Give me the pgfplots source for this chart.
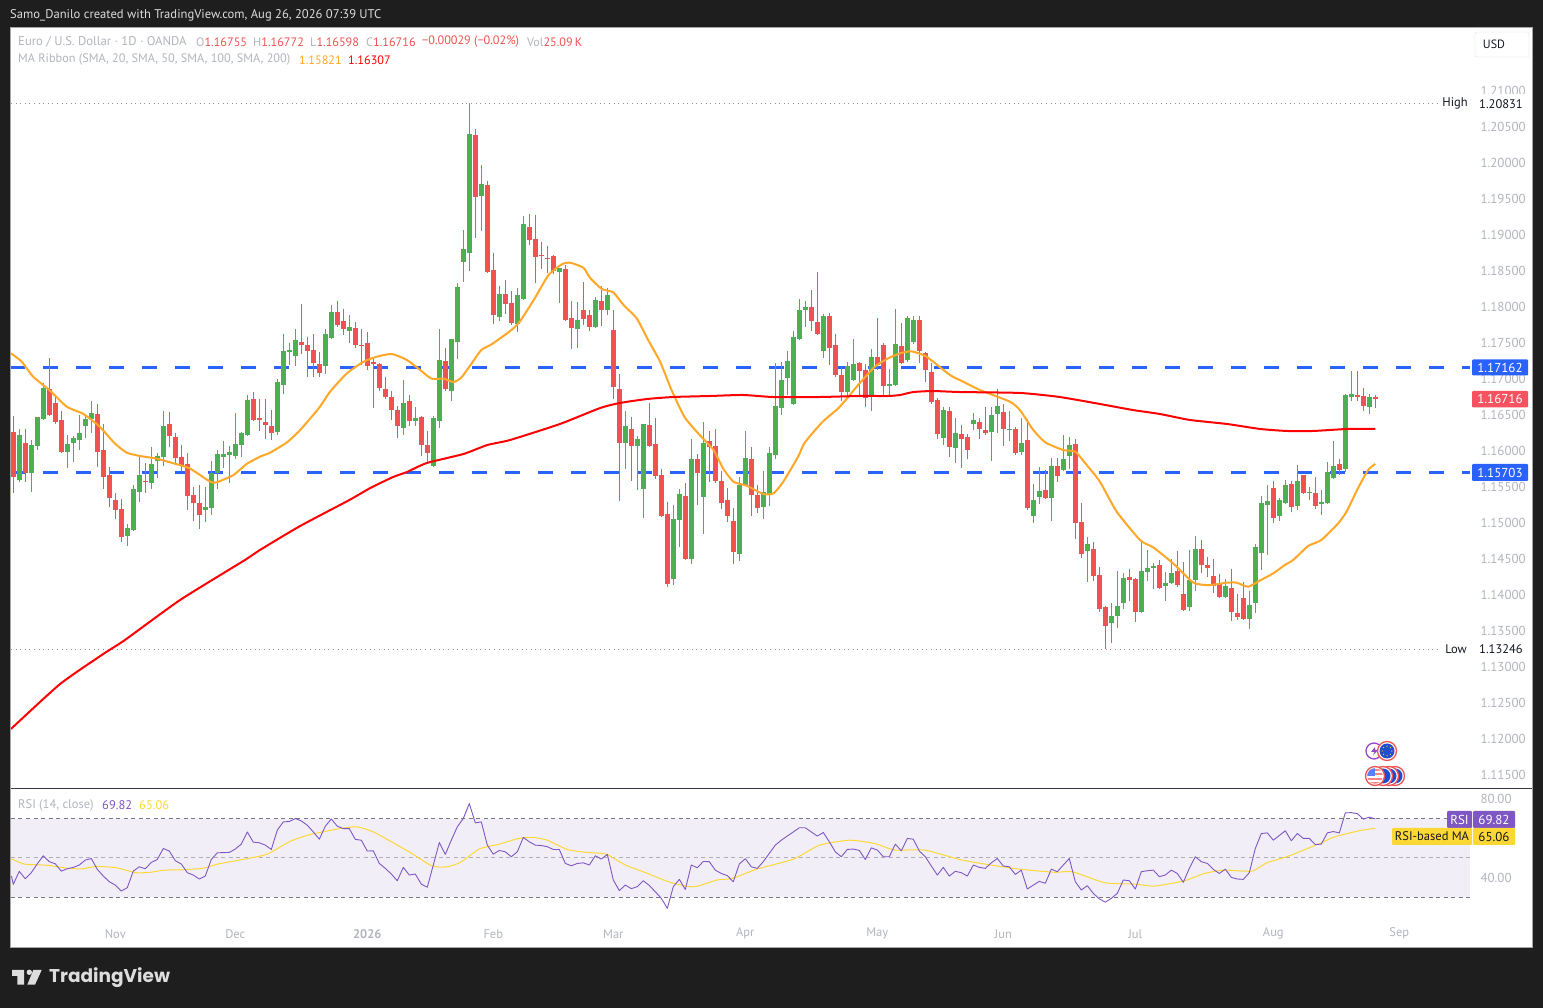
\documentclass[border=0pt]{standalone}
\usepackage{fontspec}
\setmainfont{PT Sans}
\newfontfamily\logofont{Poppins}
\usepackage{pgfplots}
\pgfplotsset{compat=1.18}
\usepackage{pgfplotstable}
\definecolor{bgdark}{HTML}{1E1E1E}
\definecolor{upc}{HTML}{4CAF50}
\definecolor{downc}{HTML}{EF5350}
\definecolor{hl}{HTML}{2962FF}
\definecolor{tickc}{HTML}{B2B5BE}
\definecolor{sma}{HTML}{FFA726}
\definecolor{smar}{HTML}{FF0000}
\definecolor{rsic}{HTML}{7E57C2}
\definecolor{rsima}{HTML}{FDD835}
\definecolor{band}{HTML}{F1EEF8}
\definecolor{dotc}{HTML}{787B86}
\definecolor{lastred}{HTML}{F7525F}
\definecolor{ink}{HTML}{131722}
\definecolor{hdr}{HTML}{DDDDDD}
\pgfplotstableread{
i o h l c
0 1.16264 1.16486 1.15421 1.15644
1 1.15597 1.16306 1.15570 1.16222
2 1.16111 1.16306 1.15570 1.15695
3 1.15695 1.16153 1.15431 1.16084
4 1.16070 1.16472 1.16014 1.16472
5 1.16445 1.16945 1.16431 1.16875
6 1.16861 1.17292 1.16486 1.16500
7 1.16667 1.16755 1.16375 1.16403
8 1.16431 1.16556 1.15972 1.15986
9 1.15986 1.16222 1.15764 1.16097
10 1.16111 1.16209 1.15847 1.16181
11 1.16153 1.16500 1.16014 1.16250
12 1.16347 1.16514 1.16181 1.16445
13 1.16445 1.16695 1.16250 1.16528
14 1.16514 1.16653 1.15778 1.15986
15 1.16014 1.16375 1.15472 1.15639
16 1.15667 1.15778 1.15222 1.15347
17 1.15320 1.15417 1.15056 1.15181
18 1.15195 1.15334 1.14736 1.14806
19 1.14820 1.14986 1.14681 1.14931
20 1.14903 1.15528 1.14889 1.15472
21 1.15431 1.15917 1.15292 1.15667
22 1.15584 1.15834 1.15417 1.15570
23 1.15556 1.16056 1.15472 1.15820
24 1.15861 1.15972 1.15625 1.15931
25 1.15917 1.16556 1.15792 1.16347
26 1.16375 1.16542 1.16056 1.16209
27 1.16195 1.16250 1.15820 1.15903
28 1.15917 1.16084 1.15709 1.15792
29 1.15820 1.15972 1.15181 1.15375
30 1.15389 1.15500 1.15028 1.15278
31 1.15278 1.15528 1.14917 1.15111
32 1.15181 1.15500 1.15014 1.15222
33 1.15209 1.15861 1.15111 1.15690
34 1.15695 1.16014 1.15472 1.15959
35 1.15917 1.16139 1.15764 1.15959
36 1.15945 1.16070 1.15556 1.15986
37 1.15931 1.16528 1.15889 1.16097
38 1.16084 1.16264 1.15917 1.16250
39 1.16222 1.16778 1.16209 1.16709
40 1.16722 1.16820 1.16417 1.16431
41 1.16458 1.16722 1.16278 1.16430
42 1.16403 1.16722 1.16167 1.16361
43 1.16347 1.16569 1.16153 1.16250
44 1.16264 1.17000 1.16222 1.16958
45 1.16917 1.17625 1.16792 1.17389
46 1.17375 1.17500 1.17194 1.17403
47 1.17319 1.17694 1.17180 1.17542
48 1.17514 1.18042 1.17347 1.17472
49 1.17472 1.17583 1.17028 1.17389
50 1.17403 1.17625 1.17028 1.17222
51 1.17208 1.17375 1.17028 1.17083
52 1.17180 1.17694 1.17069 1.17625
53 1.17569 1.18028 1.17555 1.17931
54 1.17931 1.18083 1.17722 1.17750
55 1.17806 1.17972 1.17611 1.17694
56 1.17667 1.17889 1.17500 1.17722
57 1.17708 1.17792 1.17431 1.17472
58 1.17472 1.17694 1.17194 1.17458
59 1.17500 1.17653 1.17125 1.17180
60 1.17236 1.17292 1.16597 1.17208
61 1.17208 1.17222 1.16833 1.16875
62 1.16861 1.17028 1.16722 1.16750
63 1.16750 1.16833 1.16430 1.16569
64 1.16569 1.16625 1.16181 1.16347
65 1.16319 1.16986 1.16222 1.16667
66 1.16694 1.16778 1.16347 1.16417
67 1.16417 1.16611 1.16347 1.16458
68 1.16472 1.16486 1.15931 1.16083
69 1.16083 1.16278 1.15847 1.15972
70 1.15792 1.16486 1.15778 1.16458
71 1.16417 1.17694 1.16319 1.17264
72 1.17250 1.17431 1.16833 1.16861
73 1.16833 1.17560 1.16694 1.17556
74 1.17514 1.18333 1.17278 1.18278
75 1.18625 1.19069 1.18347 1.18805
76 1.18750 1.20833 1.18500 1.20402
77 1.20388 1.20472 1.18958 1.19527
78 1.19541 1.19972 1.19055 1.19708
79 1.19694 1.19750 1.18472 1.18486
80 1.18513 1.18750 1.17763 1.17888
81 1.17861 1.18291 1.17805 1.18180
82 1.18180 1.18375 1.17902 1.18041
83 1.18055 1.18222 1.17750 1.17777
84 1.17763 1.18263 1.17652 1.18166
85 1.18111 1.19263 1.18097 1.19152
86 1.19111 1.19291 1.18861 1.18930
87 1.18944 1.19277 1.18333 1.18694
88 1.18722 1.18902 1.18527 1.18708
89 1.18680 1.18847 1.18472 1.18666
90 1.18708 1.18722 1.18458 1.18500
91 1.18486 1.18541 1.18055 1.18541
92 1.18527 1.18583 1.17805 1.17819
93 1.17847 1.18083 1.17416 1.17708
94 1.17694 1.18069 1.17430 1.17819
95 1.17958 1.18347 1.17750 1.17833
96 1.17888 1.17958 1.17666 1.17722
97 1.17722 1.18138 1.17708 1.18097
98 1.18083 1.18291 1.17736 1.17958
99 1.17958 1.18263 1.17888 1.18166
100 1.17681 1.17958 1.16722 1.16893
101 1.16861 1.17070 1.15306 1.16111
102 1.16111 1.16556 1.15750 1.16347
103 1.16306 1.16472 1.15584 1.16070
104 1.16070 1.16209 1.15459 1.16167
105 1.15472 1.16375 1.15070 1.16375
106 1.16361 1.16667 1.16056 1.16070
107 1.16097 1.16459 1.15611 1.15653
108 1.15667 1.15750 1.15084 1.15098
109 1.15125 1.15292 1.14111 1.14153
110 1.14222 1.15250 1.14139 1.15056
111 1.15042 1.15472 1.14667 1.15403
112 1.15375 1.15556 1.14486 1.14500
113 1.14500 1.16167 1.14431 1.15889
114 1.15889 1.15959 1.15250 1.15695
115 1.15361 1.16403 1.14848 1.16111
116 1.16139 1.16278 1.15570 1.16056
117 1.16070 1.16306 1.15556 1.15584
118 1.15584 1.15722 1.15195 1.15278
119 1.15320 1.15486 1.15014 1.15098
120 1.15028 1.15209 1.14431 1.14598
121 1.14570 1.15639 1.14472 1.15528
122 1.15528 1.16278 1.15514 1.15903
123 1.15889 1.16056 1.15098 1.15389
124 1.15389 1.15528 1.15139 1.15209
125 1.15222 1.15722 1.15056 1.15431
126 1.15403 1.16056 1.15236 1.15972
127 1.15945 1.17222 1.15889 1.16625
128 1.16598 1.17236 1.16500 1.16986
129 1.17014 1.17389 1.16778 1.17250
130 1.16653 1.17667 1.16639 1.17583
131 1.17556 1.18111 1.17542 1.17959
132 1.17959 1.18084 1.17722 1.18000
133 1.18000 1.18236 1.17667 1.17806
134 1.17792 1.18486 1.17611 1.17625
135 1.17389 1.17903 1.17292 1.17875
136 1.17875 1.17917 1.17195 1.17431
137 1.17472 1.17625 1.17028 1.17056
138 1.17056 1.17167 1.16695 1.16820
139 1.16820 1.17236 1.16722 1.17181
140 1.16986 1.17556 1.16972 1.17209
141 1.17222 1.17236 1.16778 1.17111
142 1.17125 1.17209 1.16611 1.16736
143 1.16778 1.17417 1.16556 1.17306
144 1.17306 1.17847 1.17125 1.17195
145 1.17472 1.17500 1.16778 1.16903
146 1.16903 1.17139 1.16764 1.16931
147 1.16917 1.17972 1.16903 1.17486
148 1.17459 1.17778 1.17208 1.17222
149 1.17264 1.17875 1.17236 1.17847
150 1.17514 1.17875 1.17486 1.17820
151 1.17820 1.17875 1.17222 1.17389
152 1.17361 1.17375 1.16959 1.17125
153 1.17097 1.17222 1.16653 1.16681
154 1.16709 1.16736 1.16167 1.16236
155 1.16181 1.16611 1.16083 1.16570
156 1.16556 1.16611 1.15917 1.16056
157 1.16042 1.16459 1.15833 1.16250
158 1.16236 1.16361 1.15764 1.16167
159 1.16195 1.16236 1.15889 1.16014
160 1.16375 1.16528 1.16292 1.16431
161 1.16403 1.16459 1.16167 1.16306
162 1.16292 1.16611 1.16222 1.16250
163 1.16264 1.16611 1.15861 1.16500
164 1.16514 1.16861 1.16250 1.16625
165 1.16542 1.16653 1.16070 1.16306
166 1.16292 1.16556 1.16139 1.16306
167 1.16306 1.16333 1.15945 1.15972
168 1.15986 1.16458 1.15944 1.16111
169 1.16152 1.16444 1.15180 1.15208
170 1.15097 1.15541 1.14999 1.15319
171 1.15361 1.15777 1.15263 1.15444
172 1.15458 1.15736 1.15333 1.15347
173 1.15347 1.15902 1.15027 1.15791
174 1.15791 1.15902 1.15569 1.15652
175 1.15736 1.16222 1.15722 1.15888
176 1.15930 1.16194 1.15750 1.16083
177 1.16097 1.16166 1.14777 1.14999
178 1.15013 1.15277 1.14513 1.14569
179 1.14611 1.14805 1.14180 1.14708
180 1.14638 1.14736 1.14194 1.14263
181 1.14277 1.14388 1.13763 1.13805
182 1.13833 1.13847 1.13246 1.13569
183 1.13611 1.13888 1.13333 1.13708
184 1.13708 1.14333 1.13541 1.13847
185 1.13888 1.14305 1.13805 1.14236
186 1.14249 1.14361 1.13916 1.14208
187 1.14222 1.14236 1.13625 1.13763
188 1.13763 1.14736 1.13749 1.14333
189 1.14319 1.14625 1.14194 1.14375
190 1.14375 1.14444 1.14083 1.14402
191 1.14416 1.14486 1.14083 1.14097
192 1.14125 1.14319 1.13916 1.14166
193 1.14166 1.14499 1.14152 1.14305
194 1.14333 1.14611 1.14111 1.14138
195 1.14013 1.14458 1.13777 1.13791
196 1.13833 1.14625 1.13777 1.14208
197 1.14208 1.14819 1.14055 1.14638
198 1.14638 1.14763 1.14305 1.14416
199 1.14416 1.14527 1.14249 1.14375
200 1.14263 1.14499 1.14027 1.14125
201 1.14152 1.14291 1.13958 1.13972
202 1.13972 1.14222 1.13958 1.14125
203 1.14097 1.14361 1.13638 1.13763
204 1.13749 1.14013 1.13652 1.13694
205 1.13958 1.14180 1.13652 1.13666
206 1.13666 1.14055 1.13527 1.13861
207 1.13888 1.14708 1.13749 1.14666
208 1.14583 1.15375 1.14347 1.15278
209 1.15250 1.15528 1.14556 1.15306
210 1.15486 1.15583 1.15000 1.15070
211 1.15097 1.15347 1.15028 1.15320
212 1.15278 1.15597 1.15264 1.15528
213 1.15542 1.15583 1.15153 1.15222
214 1.15236 1.15806 1.15181 1.15583
215 1.15667 1.15667 1.15403 1.15417
216 1.15417 1.15500 1.15320 1.15431
217 1.15417 1.15639 1.15194 1.15236
218 1.15264 1.15458 1.15111 1.15292
219 1.15278 1.15847 1.15264 1.15708
220 1.15625 1.16139 1.15611 1.15792
221 1.15820 1.15889 1.15667 1.15736
222 1.15750 1.16792 1.15708 1.16778
223 1.16750 1.17111 1.16695 1.16792
224 1.16778 1.17111 1.16695 1.16750
225 1.16764 1.16875 1.16556 1.16625
226 1.16611 1.16792 1.16514 1.16750
227 1.16755 1.16772 1.16598 1.16716
}\ohlc
\pgfplotstableread{
i v
-0.4 1.17357
1.4 1.17241
3.3 1.17033
6 1.16847
8.9 1.16616
11.7 1.16514
14.4 1.16338
16.9 1.16107
18.9 1.15977
21.1 1.15931
23.9 1.15894
26.7 1.15829
29.4 1.15759
32.8 1.15574
33.9 1.15565
36.7 1.15667
38.9 1.15820
41.1 1.15921
42.8 1.15977
45.6 1.16120
47.8 1.16291
50.9 1.16592
52.8 1.16824
55.6 1.17079
58.4 1.17241
60.6 1.17310
63.1 1.17347
65.6 1.17264
67.8 1.17125
69.7 1.17005
71.7 1.17005
73.4 1.16958
74.7 1.17023
76.2 1.17194
78 1.17403
79.7 1.17481
82.8 1.17666
84.4 1.17796
86.9 1.18120
89.2 1.18444
91.4 1.18592
92.8 1.18615
95 1.18546
96.1 1.18407
98.1 1.18249
100 1.18203
101.7 1.18027
103.9 1.17842
105.8 1.17542
107.8 1.17241
109.7 1.16847
111.9 1.16468
114.4 1.16222
116.7 1.16014
118.3 1.15759
120 1.15574
122.2 1.15519
125 1.15403
126.7 1.15412
128.3 1.15570
130.8 1.15921
131.9 1.16116
134.9 1.16407
137.5 1.16593
139.2 1.16755
140.8 1.16917
143.6 1.17171
145.8 1.17287
147.8 1.17357
149.7 1.17384
152.2 1.17310
156.1 1.17056
158.3 1.16963
161.1 1.16847
166.1 1.16685
167.8 1.16565
170 1.16291
172 1.16120
175 1.16013
177 1.15990
178.9 1.15805
181.1 1.15574
183.9 1.15157
187.8 1.14763
190 1.14661
193.3 1.14439
196.7 1.14171
199.4 1.14138
202.2 1.14171
203.9 1.14171
205.8 1.14115
207.8 1.14203
210 1.14301
211.9 1.14416
213.3 1.14486
215.8 1.14680
218 1.14764
220.8 1.14995
222.2 1.15157
224.1 1.15481
225.8 1.15736
227 1.15821
}\smaA
\pgfplotstableread{
i v
-0.4 1.12139
7.8 1.12764
15 1.13181
18.6 1.13375
27.8 1.13931
38.6 1.14486
41.1 1.14625
47.8 1.14958
56 1.15319
59.5 1.15486
63.3 1.15639
65.6 1.15708
68.9 1.15833
75 1.15958
79 1.16083
82.8 1.16153
91.1 1.16375
97.8 1.16597
101.1 1.16667
105.6 1.16722
110 1.16750
116.1 1.16764
121.6 1.16778
126.6 1.16750
134.4 1.16750
141.1 1.16764
145.8 1.16764
147.8 1.16778
150 1.16819
153.3 1.16833
157.8 1.16819
167.8 1.16806
174.4 1.16750
181.1 1.16653
186.6 1.16569
191.1 1.16514
196.1 1.16431
202.3 1.16375
207.8 1.16306
212.3 1.16278
216.6 1.16278
222.3 1.16306
227 1.16307
}\smaB
\pgfplotstableread{
i v
-0.3 40.8
0 36.6
1 43.2
2 39.4
3 42.5
4 47.0
5 51.1
6 48.1
7 47.0
8 43.3
9 44.5
10 45.2
11 46.4
12 48.9
13 49.7
14 44.2
15 40.8
16 37.9
17 36.2
18 33.2
19 34.9
20 43.3
21 45.5
22 44.5
23 47.7
24 49.2
25 54.8
26 53.5
27 48.6
28 46.9
29 42.5
30 41.3
31 39.3
32 40.8
33 49.2
34 52.6
35 52.7
36 52.8
37 54.5
38 57.0
39 63.2
40 58.0
41 57.7
42 56.5
43 54.3
44 64.1
45 68.3
46 68.5
47 70.0
48 68.8
49 66.6
50 63.2
51 59.5
52 66.1
53 69.8
54 66.1
55 64.9
56 64.9
57 59.4
58 59.0
59 53.5
60 53.6
61 47.2
62 44.7
63 41.8
64 38.4
65 45.2
66 41.3
67 41.8
68 36.7
69 35.1
70 46.4
71 57.8
72 51.8
73 59.0
74 65.8
75 70.0
76 77.6
77 67.8
78 68.3
79 56.5
80 51.9
81 53.8
82 53.1
83 50.6
84 53.1
85 60.4
86 58.2
87 56.5
88 56.3
89 55.7
90 54.3
91 54.3
92 47.2
93 46.0
94 47.2
95 47.5
96 46.4
97 51.1
98 49.4
99 51.8
100 38.8
101 33.4
102 36.2
103 34.4
104 35.4
105 38.4
106 36.0
107 32.8
108 29.5
109 24.4
110 35.4
111 39.1
112 34.0
113 46.4
114 45.0
115 48.2
116 48.1
117 43.8
118 42.1
119 41.0
120 37.9
121 46.9
122 49.6
123 45.5
124 44.7
125 48.1
126 52.3
127 56.5
128 59.0
129 61.1
130 63.2
131 65.3
132 65.3
133 63.2
134 61.1
135 62.9
136 58.2
137 53.1
138 50.6
139 54.3
140 54.5
141 53.8
142 49.2
143 55.1
144 54.0
145 50.6
146 50.6
147 57.0
148 53.6
149 59.9
150 59.5
151 53.5
152 50.6
153 45.9
154 41.3
155 45.2
156 40.8
157 43.2
158 42.5
159 40.8
160 46.4
161 45.2
162 44.7
163 47.5
164 49.7
165 45.9
166 45.5
167 41.6
168 43.8
169 34.2
170 36.2
171 38.1
172 37.1
173 44.3
174 43.0
175 46.4
176 49.7
177 37.9
178 33.7
179 35.9
180 32.0
181 29.2
182 27.5
183 29.5
184 32.0
185 38.8
186 38.4
187 34.2
188 43.0
189 43.5
190 43.8
191 40.5
192 41.3
193 43.8
194 42.1
195 37.6
196 44.7
197 50.6
198 48.1
199 47.2
200 44.2
201 42.1
202 44.3
203 40.1
204 39.3
205 39.1
206 42.5
207 54.8
208 62.4
209 62.7
210 59.0
211 61.4
212 63.8
213 58.7
214 62.4
215 59.9
216 59.9
217 56.8
218 57.0
219 62.7
220 63.4
221 62.7
222 72.9
223 73.0
224 72.5
225 69.7
226 70.7
227 69.82
}\rsi
\pgfplotstableread{
i v
-0.4 49.7
1.8 46.9
5.9 46.2
9.1 44.7
11.5 44.5
13.9 45.7
17.2 45.0
20.4 42.5
22.8 42.7
25.2 43.8
28.5 44.0
31.7 44.8
34.1 46.9
38.2 49.2
42.2 51.8
46.2 58.5
49.5 61.9
54.3 64.8
57.2 65.8
60 63.2
64 56.5
66.4 52.3
69.7 46.0
72.1 45.4
74.5 47.7
77.7 54.6
81 57.0
84.2 59.9
86.6 60.4
89 59.0
92.3 54.3
95.5 52.8
98.8 51.9
102 46.4
105.2 42.7
109.2 37.9
112.5 35.4
114.1 35.7
117.3 38.8
119.8 39.6
123.8 44.2
126.9 46.7
130.3 49.7
134.4 56.5
139.4 59.0
143.6 57.3
146.9 54.0
151.9 54.0
157.7 49.2
161.9 46.9
167.7 44.3
173.6 42.7
176.5 43.0
181.9 37.4
186.9 36.7
190.2 35.7
195.2 38.4
198.5 42.1
201.8 43.8
206.4 43.3
208.9 47.5
212.7 51.1
217.7 57.3
220.2 60.7
224.3 63.8
227 65.06
}\rsiMA
\newcommand{\fs}[1]{\fontsize{#1}{#1}\selectfont}
\begin{document}
\begin{tikzpicture}[x=1pt,y=1pt]
\useasboundingbox (0,0) rectangle (1543,1008);
\fill[bgdark] (0,0) rectangle (1543,1008);
\filldraw[fill=white,draw=gray!70,line width=0.8pt] (10.5,60.5) rectangle (1532.5,980.5);

\begin{axis}[
  at={(11pt,219pt)}, anchor=south west, scale only axis,
  width=1459pt, height=761pt,
  xmin=-0.3833, xmax=242.78, ymin=1.11306, ymax=1.21875,
  axis line style={draw=none}, major tick length=0pt,
  xtick=\empty,
  ytick={1.115,1.12,1.125,1.13,1.135,1.14,1.145,1.15,1.155,1.16,1.165,1.17,1.175,1.18,1.185,1.19,1.195,1.2,1.205,1.21},
  yticklabel pos=right, scaled y ticks=false,
  y tick label style={font=\fs{13}, text=tickc, anchor=west, xshift=7pt, yshift=-0.4pt,
    /pgf/number format/.cd, fixed, fixed zerofill, precision=5, assume math mode=true},
]
\addplot[hl, line width=3pt, dash pattern=on 15pt off 18pt, dash phase=0.7pt, forget plot] coordinates {(-0.3833,1.17162)(242.78,1.17162)};
\addplot[hl, line width=3pt, dash pattern=on 15pt off 18pt, dash phase=0.7pt, forget plot] coordinates {(-0.3833,1.15703)(242.78,1.15703)};
\addplot[dotc!85, line width=0.9pt, dash pattern=on 1pt off 3.6pt, forget plot] coordinates {(-0.3833,1.20831)(237.8,1.20831)};
\addplot[dotc!85, line width=0.9pt, dash pattern=on 1pt off 3.6pt, forget plot] coordinates {(-0.3833,1.13246)(237.8,1.13246)};
% up candles: wicks and bodies
\addplot[draw=none, mark=none, restrict expr to domain={\thisrow{c}-\thisrow{o}}{0:1},
  error bars/.cd, y dir=both, y explicit, error mark=none, error bar style={upc,line width=1pt}]
  table[x=i,y=o,y error plus expr=\thisrow{h}-\thisrow{o},y error minus expr=\thisrow{o}-\thisrow{l}] {\ohlc};
\addplot[draw=none, mark=none, restrict expr to domain={\thisrow{c}-\thisrow{o}}{0:1},
  error bars/.cd, y dir=plus, y explicit, error mark=none, error bar style={upc,line width=5pt}]
  table[x=i,y=o,y error plus expr=\thisrow{c}-\thisrow{o}] {\ohlc};
% down candles: wicks and bodies
\addplot[draw=none, mark=none, restrict expr to domain={\thisrow{o}-\thisrow{c}}{0.000001:1},
  error bars/.cd, y dir=both, y explicit, error mark=none, error bar style={downc,line width=1pt}]
  table[x=i,y=o,y error plus expr=\thisrow{h}-\thisrow{o},y error minus expr=\thisrow{o}-\thisrow{l}] {\ohlc};
\addplot[draw=none, mark=none, restrict expr to domain={\thisrow{o}-\thisrow{c}}{0.000001:1},
  error bars/.cd, y dir=minus, y explicit, error mark=none, error bar style={downc,line width=5pt}]
  table[x=i,y=o,y error minus expr=\thisrow{o}-\thisrow{c}] {\ohlc};
\addplot[sma, line width=2pt, line join=round, smooth, tension=0.35] table[x=i,y=v] {\smaA};
\addplot[smar, line width=2pt, line join=round, smooth, tension=0.35] table[x=i,y=v] {\smaB};
\end{axis}

\begin{axis}[
  at={(11pt,91pt)}, anchor=south west, scale only axis,
  width=1459pt, height=127pt,
  xmin=-0.3833, xmax=242.78, ymin=20, ymax=84.5,
  axis line style={draw=none}, major tick length=0pt,
  xtick={17,37,59,80,100,122,144,165,187,210,231},
  xticklabels={Nov,Dec,\textbf{2026},Feb,Mar,Apr,May,Jun,Jul,Aug,Sep},
  x tick label style={font=\fs{12.5}, text=tickc, anchor=center, yshift=-16.8pt},
  ytick={40,80}, yticklabel pos=right,
  y tick label style={font=\fs{13}, text=tickc, anchor=west, xshift=7pt, yshift=-0.5pt,
    /pgf/number format/.cd, fixed, fixed zerofill, precision=2, assume math mode=true},
]
\addplot[fill=band, draw=none, forget plot] coordinates {(-0.3833,30)(242.78,30)(242.78,70)(-0.3833,70)} -- cycle;
\addplot[dotc, line width=1pt, dash pattern=on 4pt off 3.5pt, forget plot] coordinates {(-0.3833,70)(242.78,70)};
\addplot[dotc!60, line width=1pt, dash pattern=on 4pt off 3.5pt, forget plot] coordinates {(-0.3833,50)(242.78,50)};
\addplot[dotc, line width=1pt, dash pattern=on 4pt off 3.5pt, forget plot] coordinates {(-0.3833,30)(242.78,30)};
\addplot[rsima, line width=1pt, line join=round, smooth, tension=0.35] table[x=i,y=v] {\rsiMA};
\addplot[rsic, line width=0.9pt, line join=round] table[x=i,y=v] {\rsi};
\end{axis}

% pane separator
\draw[ink!85,line width=1pt] (11,219) -- (1532,219);

% header
\tikzset{lab/.style={anchor=west,inner sep=0pt,font=\fs{12.5}}}
\node[lab,text=hdr,font=\fs{12.6}] at (10,992.8) {Samo\_Danilo created with TradingView.com, Aug 26, 2026 07:39 UTC};
\node[lab,text=tickc,font=\fs{12.7}] at (18,966.2) {Euro / U.S. Dollar · 1D · OANDA};
\tikzset{lab2/.style={anchor=west,inner sep=0pt,font=\fs{12.2}}}
\node[lab2,text=tickc] at (196,966.2) {O\textcolor{downc}{1.16755}};
\node[lab2,text=tickc] at (253,966.2) {H\textcolor{downc}{1.16772}};
\node[lab2,text=tickc] at (310,966.2) {L\textcolor{downc}{1.16598}};
\node[lab2,text=tickc] at (366,966.2) {C\textcolor{downc}{1.16716}};
\node[lab2,text=downc] at (422,966.2) {−0.00029 (−0.02\%)};
\node[lab2,text=tickc] at (527,966.2) {Vol\textcolor{downc}{25.09\,K}};
\node[lab,text=tickc,font=\fs{12.3}] at (18,948.2) {MA Ribbon (SMA, 20, SMA, 50, SMA, 100, SMA, 200)};
\node[lab2,text=sma] at (299,948.2) {1.15821};
\node[lab2,text=smar] at (348,948.2) {1.16307};

% USD button
\draw[gray!25,fill=white,rounded corners=2pt] (1475,951) rectangle (1529,976);
\node[anchor=center,inner sep=0pt,font=\fs{12},text=ink] at (1494,964) {USD};

% price labels
\tikzset{val/.style={anchor=center,inner sep=0pt,font=\fs{13},text=white}}
\fill[hl,rounded corners=1pt] (1472,632.5) rectangle (1528,648.5);
\node[val] at (1500,640.5) {1.17162};
\fill[lastred,rounded corners=1pt] (1472,600.5) rectangle (1528,617);
\node[val] at (1500,609) {1.16716};
\fill[hl,rounded corners=1pt] (1472,527) rectangle (1528,544);
\node[val] at (1500,535.5) {1.15703};
\fill[white] (1472,896) rectangle (1528,914);
\node[val,text=ink,font=\fs{12.5}] at (1455,904.3) {High};
\node[val,text=ink,font=\fs{12.5}] at (1501,904.3) {1.20831};
\fill[white] (1472,350) rectangle (1528,368);
\node[val,text=ink,font=\fs{12.5}] at (1456,358.6) {Low};
\node[val,text=ink,font=\fs{12.5}] at (1501,358.6) {1.13246};

% RSI labels
\fill[rsic,rounded corners=1pt] (1447,180) rectangle (1472,197);
\fill[rsic,rounded corners=1pt] (1473,180) rectangle (1515,197);
\node[val] at (1459.5,188.5) {RSI};
\node[val] at (1494,188.5) {69.82};
\fill[rsima,rounded corners=1pt] (1392,163) rectangle (1472,180);
\fill[rsima,rounded corners=1pt] (1473,163) rectangle (1515,180);
\node[val,text=ink,font=\fs{12.5}] at (1432,171.5) {RSI-based MA};
\node[val,text=ink] at (1494,171.5) {65.06};
\node[lab,text=tickc] at (18,202.7) {RSI (14, close)};
\node[lab,text=rsic] at (102,202.7) {69.82};
\node[lab,text=rsima] at (139,202.7) {65.06};

% event icons
\draw[rsic!80!magenta,line width=1.3pt,fill=white] (1374,257) circle (8);
\fill[rsic!80!magenta] (1375,261) -- (1371,256) -- (1374.5,256) -- (1373,252.5) -- (1378,258) -- (1375,258) -- cycle;
\draw[downc,line width=1.3pt,fill=white] (1387,257) circle (9.5);
\fill[hl!80!black] (1387,257) circle (7.5);
\foreach \a in {0,45,...,315} \fill[rsima] (1387,257)++(\a:4.8) circle (0.7);
\foreach \cx in {1395,1389,1383} {
  \draw[downc,line width=1.3pt,fill=white] (\cx,232) circle (9.5);
  \fill[hl!80!black] (\cx,232) circle (7.5);
}
\draw[downc,line width=1.3pt,fill=white] (1375,232) circle (9.5);
\begin{scope}
  \clip (1375,232) circle (7.8);
  \foreach \yy in {238,233.5,229,224.5} \fill[downc!70] (1365,\yy-1) rectangle (1385,\yy+1);
  \fill[hl!80] (1366,232) rectangle (1375,241);
\end{scope}

% TradingView logo
\fill[hdr] (12,38) -- (24,38) -- (24,23.3) -- (17.3,23.3) -- (17.3,32) -- (12,32) -- cycle;
\fill[hdr] (29.3,35.7) circle (2.7);
\fill[hdr] (33.3,38) -- (41.7,38) -- (35,23.3) -- (27.3,23.3) -- cycle;
\node[anchor=west,inner sep=0pt,font=\logofont\bfseries\fs{18.5},text=hdr] at (49,30) {TradingView};
\end{tikzpicture}
\end{document}
